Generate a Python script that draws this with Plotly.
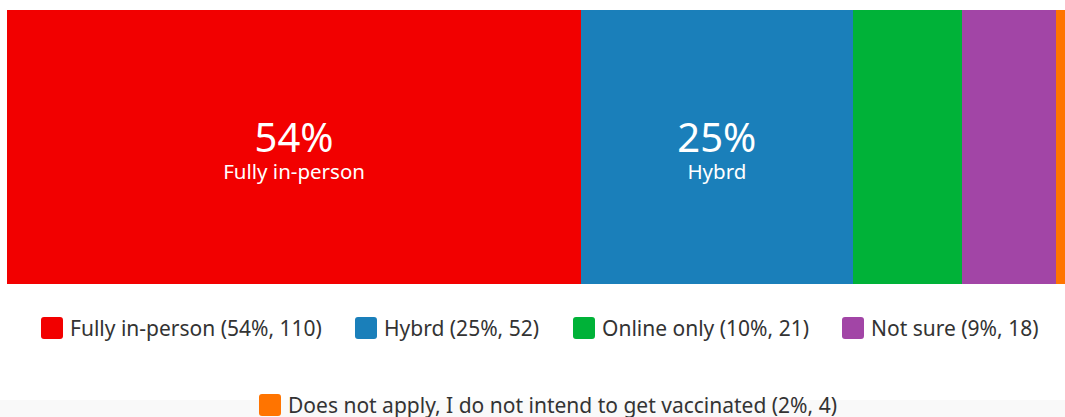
import plotly.graph_objects as go

# ---- data ----
categories = ["Fully in-person", "Hybrd", "Online only", "Not sure",
              "Does not apply, I do not intend to get vaccinated"]
counts = [110, 52, 21, 18, 4]
percents = [54, 25, 10, 9, 2]
colors = ["#F20000", "#1A7FBA", "#00B238", "#A245A6", "#FF7400"]
show_label = [True, True, False, False, False]

W, H = 1065, 417
L, R, T, B = 7, 0, 10, H - 284
PW, PH = W - L - R, H - T - B

def px_x(px):  # page pixel -> paper x
    return (px - L) / PW

def px_y(py):  # page pixel -> paper y
    return (H - B - py) / PH

FONT = "Noto Sans"

fig = go.Figure()
for cat, n, p, c, lab in zip(categories, counts, percents, colors, show_label):
    txt = f"<span style='font-size:40px'>{p}%</span><br>{cat}" if lab else ""
    fig.add_trace(go.Bar(
        x=[n], y=["q"], orientation="h", name=cat,
        marker=dict(color=c, line=dict(width=0)),
        text=[txt], texttemplate="%{text}", textposition="inside",
        insidetextanchor="middle", textangle=0,
        insidetextfont=dict(color="white", size=20.5, family=FONT),
        hoverinfo="skip", showlegend=False, width=1,
    ))

# visible axis end chosen so the chart is cropped at the right edge like the reference
visible_total = 202.7

shapes = []
annotations = []

# light strip at the bottom of the page
shapes.append(dict(type="rect", xref="paper", yref="paper",
                   x0=px_x(0), x1=px_x(W), y0=px_y(H), y1=px_y(400),
                   fillcolor="#F9F9F9", line=dict(width=0), layer="below"))

# custom legend (pixel positions of swatch left edge / row centre)
legend_pos = [(41, 328), (355, 328), (573, 328), (842, 328), (259, 405)]
sw = 22
rad = 3
for (sx, cy), cat, n, p, c in zip(legend_pos, categories, counts, percents, colors):
    x0, x1 = sx, sx + sw
    y0, y1 = cy - sw / 2, cy + sw / 2

    def P(px, py):
        return f"{px_x(px):.6f},{px_y(py):.6f}"
    path = (f"M{P(x0 + rad, y0)} L{P(x1 - rad, y0)} Q{P(x1, y0)} {P(x1, y0 + rad)} "
            f"L{P(x1, y1 - rad)} Q{P(x1, y1)} {P(x1 - rad, y1)} "
            f"L{P(x0 + rad, y1)} Q{P(x0, y1)} {P(x0, y1 - rad)} "
            f"L{P(x0, y0 + rad)} Q{P(x0, y0)} {P(x0 + rad, y0)} Z")
    shapes.append(dict(type="path", xref="paper", yref="paper", path=path,
                       fillcolor=c, line=dict(width=0)))
    annotations.append(dict(
        xref="paper", yref="paper", x=px_x(sx + sw + 5), y=px_y(cy),
        xanchor="left", yanchor="middle", showarrow=False,
        text=f"{cat} ({p}%, {n})",
        font=dict(family=FONT, size=21, color="#333333"),
    ))

fig.update_layout(
    width=W, height=H,
    margin=dict(l=L, r=R, t=T, b=B, pad=0),
    barmode="stack", barcornerradius=4,
    plot_bgcolor="white", paper_bgcolor="white",
    xaxis=dict(range=[0, visible_total], visible=False, fixedrange=True),
    yaxis=dict(visible=False, fixedrange=True),
    shapes=shapes, annotations=annotations,
    showlegend=False, hovermode=False,
    font=dict(family=FONT),
)

fig.write_html(
    "out.html",
    config={"displayModeBar": False},
    post_script="document.body.style.margin='0';document.body.style.overflow='hidden';",
)
